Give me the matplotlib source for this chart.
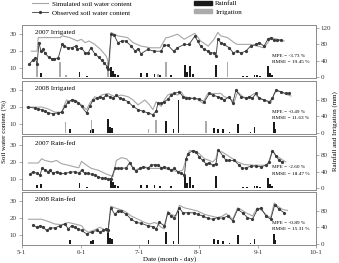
import matplotlib
matplotlib.use("Agg")
import matplotlib.pyplot as plt
from matplotlib.lines import Line2D
from matplotlib.patches import Patch

plt.rcParams['font.family'] = ['Liberation Serif', 'DejaVu Serif']
plt.rcParams['font.size'] = 5

# x values are days after May 1
month_ticks = [0, 31, 61, 92, 123, 153]
month_labels = ['5-1', '6-1', '7-1', '8-1', '9-1', '10-1']

# ---- 2007 irrigated ----
i07_sim_day = [5, 8, 8.6, 14, 20, 21, 25, 29, 31, 33, 35, 38, 41, 44, 45.5, 46.5, 50, 55, 58, 62, 67, 72, 75,
               76, 81, 84.5, 90, 93, 97, 100, 102, 103.5, 107, 110.5, 112, 119, 122.5, 126, 128, 129.5, 133, 136.5]
i07_sim_val = [20, 20, 28, 28, 28, 29, 28, 26, 27, 25, 26, 24, 21, 17, 12, 31, 29, 28, 25, 23, 22, 22, 28,
               28, 30, 27, 30.5, 26, 23, 27, 31, 29, 28, 25, 24, 24, 23, 22, 25, 28, 27, 26]
i07_obs_day = [4, 6, 7, 8, 9, 10, 11, 12, 14, 15.5, 17, 19, 21, 22, 24, 26, 28, 29, 31, 33, 34.5, 36, 38, 40,
               41.5, 43, 44.5, 45, 46.5, 48, 50, 52, 54, 57, 59, 60.5, 62, 65.5, 69, 72.5, 74, 76, 79, 81,
               84.5, 87, 90, 91.5, 93, 95, 97, 98, 100, 101, 102, 103.5, 105, 108, 110, 112, 114, 116.5,
               119, 122, 123.5, 126, 128, 129.5, 131, 133, 135]
i07_obs_val = [12.6, 15, 16, 12.6, 25, 20, 21, 19, 16.5, 15.6, 15.6, 16, 24, 23, 22, 22, 23, 21, 22, 19, 19, 22,
               18.5, 16.5, 14.8, 13, 11, 9.5, 30, 29.6, 25, 26, 26, 23, 20, 21.5, 18.5, 21, 20, 20, 23.5,
               23.5, 20, 22, 24, 24, 28.8, 26, 23, 21, 20, 19, 19, 17, 27, 25, 24, 22, 19, 20, 19, 20, 23,
               24, 25, 23, 27, 28, 26.5, 26.5, 26.5]
i07_irr_day = [8, 20, 23, 45, 71, 75, 107]
i07_irr_mm = [37, 37, 5, 37, 8, 37, 37]

# ---- 2008 irrigated ----
i08_sim_day = [2.6, 10.4, 13.8, 17.3, 20.7, 21.6, 23.3, 25.1, 26.8, 28.5, 31.1, 33.7, 35.4, 38, 39.7, 41.5,
               44.9, 48.4, 51.8, 55.3, 57.9, 60.5, 64, 66.5, 68.2, 69.9, 72.5, 74.2, 76, 77.7, 81.2, 82.9,
               84.6, 88.1, 91.5, 94.1, 96.7, 100.2, 103.6, 105.3, 108, 110.5, 112.3, 114.9, 117.4, 120.9,
               123.5, 126.1, 129.5, 131.3, 133, 136.5, 140]
i08_sim_val = [19.8, 19.8, 18.7, 16.8, 16.8, 19.2, 24, 23, 24.4, 23, 21.1, 18.3, 22.1, 25.9, 25, 26.9, 27.8,
               25.9, 26.9, 25.9, 24, 21.1, 24, 21.1, 18.3, 23, 20.2, 24, 26.9, 27.8, 26.9, 28.8, 25.9, 25,
               24.4, 22.1, 27.8, 27.8, 27.8, 25.9, 25, 23, 28.8, 25.9, 25, 27.8, 25, 24, 22.1, 27.8, 29.7,
               27.8, 26.3]
i08_obs_day = [3.5, 6.9, 8.6, 10.4, 12.1, 13.8, 16.4, 19, 20.7, 22.5, 24.2, 25.9, 27.6, 29.4, 31.1, 33.7,
               35.4, 37.1, 38.9, 40.6, 42.3, 44, 45.8, 47.5, 49.2, 51, 52.7, 55.3, 57.9, 60.5, 63.2, 65.6,
               68.2, 69.9, 70.8, 72.5, 74.2, 76, 77.7, 79.4, 82, 83.8, 85.5, 87.2, 89.8, 92.4, 95, 97.6,
               99.3, 101.9, 103.6, 105.3, 108, 109.7, 111.4, 114, 116.6, 118.3, 120, 121.8, 123.5, 126.1,
               128.7, 130.4, 132.1, 134.7, 137.3, 139.1]
i08_obs_val = [19.8, 19.2, 18.7, 18.3, 17.3, 16.4, 16, 16.4, 16.8, 20.2, 23, 24, 23.6, 22.5, 20.2, 16.4, 20.2,
               24, 25, 25.9, 25, 26.9, 25.9, 25, 26.9, 25, 24.4, 23, 20.2, 18.3, 17.3, 16.4, 15.4, 17.3,
               22.1, 22.1, 23, 24.4, 26.9, 27.8, 28.8, 25.9, 25, 25, 25, 24.4, 23, 27.8, 26.9, 25.9, 25, 24,
               25.9, 22.1, 29.7, 25.9, 25, 25.9, 25, 27.8, 25, 24, 23, 25, 29.7, 28.8, 27.8, 27.8]
i08_irr_day = [22.8, 36.3, 66, 70, 96]
i08_irr_mm = [27, 30, 10, 30, 28]

# ---- 2007 rain-fed ----
r07_sim_day = [3.5, 8.6, 10.4, 12.1, 15.5, 18.1, 20.7, 24.2, 27.6, 29.7, 31.1, 33.7, 36.3, 39.7, 41.5, 43.2,
               46.6, 47.5, 49.2, 51.8, 54.4, 56.1, 58.7, 61.3, 63.9, 67.4, 70.8, 74.2, 77.7, 81.2, 83.8,
               85.5, 87.2, 89.8, 92.4, 95, 97.6, 99.3, 101, 101.9, 104.5, 107.1, 109.7, 112.3, 115.7,
               120.9, 125.2, 127.8, 129.5, 130.4, 132.1, 134.7, 137.3]
r07_sim_val = [19.6, 19.6, 22.1, 21.1, 20.2, 21.1, 19.2, 18.3, 17.3, 16.8, 20.6, 18.3, 16.4, 15.4, 14.5, 13.5,
               12, 11.6, 21.1, 22.7, 22.1, 20.2, 15.4, 16.4, 17.3, 16.4, 16.4, 16.4, 15.4, 14.5, 15.4, 22.1,
               26.9, 26.9, 25, 22.1, 21.1, 20.2, 22.1, 26.9, 25.9, 24, 22.1, 20.2, 18.7, 18.3, 18.3, 18.3,
               24, 26.9, 24, 22.1, 20.2]
r07_obs_day = [4.4, 6, 7.8, 9.5, 10.7, 12.1, 13.8, 14.7, 16.4, 18.1, 19.9, 22.5, 25.1, 27.6, 29.7, 31.1, 32.8,
               34.5, 36.3, 38, 39.7, 41.5, 43.2, 44.9, 46.6, 48.4, 50.1, 51.8, 54.4, 56.1, 57.9, 59.6, 61.3,
               63, 65.6, 67.4, 69.1, 70.8, 72.5, 74.2, 76, 77.7, 79.4, 81.2, 82.9, 84.6, 85.5, 86.4, 89,
               90.7, 92.4, 94.1, 95.9, 97.6, 99.3, 101, 102.2, 104.5, 106.2, 107.9, 110.5, 113.1, 114.8,
               116.6, 119.2, 121.8, 124.4, 127, 128.7, 130.4, 132.1, 133.9, 135.6]
r07_obs_val = [13.1, 14.5, 13.5, 12.6, 16.8, 15.4, 14.5, 15.4, 13.5, 14.5, 13.5, 13.5, 14.1, 14.5, 13.5, 15.4,
               13.5, 13.5, 13, 12.6, 11.6, 10.7, 10.7, 10.1, 10.3, 16.4, 16.4, 16.4, 16.8, 19.8, 16.4, 14.9,
               16.4, 17.3, 16.4, 18.3, 18.7, 18.3, 16.8, 17.3, 16.4, 15.4, 16.4, 14.5, 13.5, 12.6, 22.1, 25,
               26.9, 25.9, 23, 21.1, 19.2, 19.8, 18.3, 19.2, 27.4, 24, 21.1, 21.1, 21.1, 18.3, 16.4, 16.8,
               17.7, 17.9, 17.3, 18.3, 20.2, 26.9, 24, 21.1, 20.2]

# ---- 2008 rain-fed ----
r08_sim_day = [3.5, 10.4, 13.8, 17.3, 20.7, 24.2, 27.6, 31.1, 32.8, 34.5, 38, 40.6, 43.2, 44.9, 46.3, 48.4,
               50.9, 53.5, 57, 60.5, 64, 66.5, 69.1, 70.8, 72.5, 74.2, 76, 77.7, 80.3, 82, 84.6, 88.1, 91.5,
               95, 98.4, 101.9, 104.5, 106.2, 107.9, 109.7, 112.3, 114, 116.6, 120, 122.6, 125.2, 127.8,
               129.5, 131.3, 133, 135.6, 138.2]
r08_sim_val = [19.2, 19.2, 17.9, 16.4, 16, 17.3, 16.4, 15.4, 13, 11.6, 13, 14.5, 13, 11.6, 26.9, 25.9, 25, 24,
               21.1, 19.2, 17.3, 16.4, 17.3, 16.4, 14.5, 13.5, 24, 22, 21.1, 27.4, 25.9, 25, 24, 22.1, 21.1,
               20.2, 21.1, 22.5, 21.1, 19.2, 25.9, 25, 23, 21.1, 25.9, 24, 21.1, 20.2, 28.8, 26.9, 25, 24.4]
r08_obs_day = [6, 7.8, 9.5, 11.2, 12.9, 14.7, 17.3, 19.9, 22.5, 24.2, 25.9, 27.6, 29.4, 31.1, 33.7, 36.3,
               38.9, 40.6, 42.3, 44, 44.9, 46.3, 48.4, 50.1, 51.8, 54.4, 57, 59.6, 62.2, 65.6, 68.2, 69.9,
               71.6, 74.2, 76, 77.7, 79.4, 82, 83.8, 86.4, 89.8, 91.5, 94.1, 96.7, 99.3, 101.9, 104.5,
               107.1, 109.7, 112.3, 114.9, 117.4, 120, 122.6, 124.4, 127, 129.5, 131.6, 133.9, 136.5]
r08_obs_val = [15.8, 14.5, 15.4, 14.5, 12.6, 14.1, 14.1, 15.4, 16.4, 13.5, 15.4, 14.5, 13.5, 12.6, 10.7, 11.6,
               12.6, 11.6, 12.6, 13.5, 12.6, 25.9, 22.1, 24, 24, 22.1, 19.2, 17.3, 16.8, 15.4, 14.9, 13.5,
               17.3, 15.4, 23, 21, 20.2, 25.9, 23, 23, 23, 22.1, 21.1, 19.8, 19.2, 20.2, 19.8, 21.1, 18.3,
               25, 23, 20.2, 19.2, 25, 25.9, 21.1, 19.2, 27.8, 25, 23]

# ---- rainfall (same for both treatments of a year) ----
rain07_day = [8, 10, 30, 34, 46.5, 47.5, 48.5, 50, 62, 65, 69, 72, 77.7, 85, 86, 87.5, 89, 101, 115, 117,
              121, 122.5, 124, 128, 129, 130]
rain07_mm = [9, 10, 13, 3, 24, 15, 8, 6, 9, 9, 7, 5, 5, 30, 12, 28, 8, 30, 3, 3, 5, 6, 4, 26, 10, 6]
rain08_day = [25, 36, 37, 45, 46, 47, 66, 75, 79, 81.5, 100, 102, 104.5, 108, 112.5, 119, 121, 131, 132]
rain08_mm = [9, 6, 10, 33, 15, 12, 9, 28, 8, 80, 12, 10, 8, 3, 22, 3, 13, 25, 10]

panel_names = ['2007 Irrigated', '2008 Irrigated', '2007 Rain-fed', '2008 Rain-fed']
mpe = ['-3.73', '-0.49', '-2.60', '-0.89']
rmse = ['19.45', '11.63', '18.47', '15.31']

sim_days = [i07_sim_day, i08_sim_day, r07_sim_day, r08_sim_day]
sim_vals = [i07_sim_val, i08_sim_val, r07_sim_val, r08_sim_val]
obs_days = [i07_obs_day, i08_obs_day, r07_obs_day, r08_obs_day]
obs_vals = [i07_obs_val, i08_obs_val, r07_obs_val, r08_obs_val]
rain_days = [rain07_day, rain08_day, rain07_day, rain08_day]
rain_vals = [rain07_mm, rain08_mm, rain07_mm, rain08_mm]
irr_days = [i07_irr_day, i08_irr_day, [], []]
irr_vals = [i07_irr_mm, i08_irr_mm, [], []]

frame_c = '#8a8a8a'
sim_c = '#a6a6a6'
obs_c = '#3a3a3a'
rain_c = '#1a1a1a'
irr_c = '#ababab'

fig, axes = plt.subplots(4, 1, sharex=True, figsize=(3.39, 2.63), dpi=100)
fig.subplots_adjust(left=0.064, right=0.932, top=0.905, bottom=0.068, hspace=0.04)

for i, ax in enumerate(axes):
    tw = ax.twinx()
    tw.bar(rain_days[i], rain_vals[i], width=0.9, color=rain_c, linewidth=0)
    if irr_days[i]:
        tw.bar(irr_days[i], irr_vals[i], width=0.9, color=irr_c, linewidth=0)
    tw.set_ylim(-3, 127)
    tw.set_yticks([0, 40, 80, 120] if i == 0 else [0, 40, 80])

    ax.plot(sim_days[i], sim_vals[i], color=sim_c, lw=0.8)
    ax.plot(obs_days[i], obs_vals[i], color=obs_c, lw=0.6, marker='o', ms=1.3, mec=obs_c, mfc=obs_c)
    ax.set_ylim(4, 35.4)
    ax.set_yticks([10, 20, 30])
    ax.set_xlim(0, 153)
    ax.set_xticks(month_ticks)
    ax.set_xticklabels(month_labels)
    ax.set_zorder(tw.get_zorder() + 1)
    ax.patch.set_visible(False)

    for a in (ax, tw):
        for s in a.spines.values():
            s.set_color(frame_c)
            s.set_linewidth(0.6)
        a.tick_params(length=2, width=0.5, color=frame_c, labelsize=5, pad=1.5, labelcolor='#333333')
    if i < 3:
        ax.tick_params(axis='x', length=0)

    ax.text(0.045, 0.86, panel_names[i], transform=ax.transAxes, fontsize=5, va='center')
    ax.text(0.85, 0.42, 'MPE = ' + mpe[i] + ' %', transform=ax.transAxes, fontsize=3.8, va='center')
    ax.text(0.85, 0.30, 'RMSE = ' + rmse[i] + ' %', transform=ax.transAxes, fontsize=3.8, va='center')

fig.text(0.012, 0.5, 'Soil water content (%)', rotation=90, va='center', ha='center', fontsize=5)
fig.text(0.988, 0.5, 'Rainfall and Irrigation (mm)', rotation=90, va='center', ha='center', fontsize=5)
fig.text(0.5, 0.005, 'Date (month - day)', ha='center', va='bottom', fontsize=5)

h_left = [Line2D([], [], color=sim_c, lw=0.8),
          Line2D([], [], color=obs_c, lw=0.6, marker='o', ms=1.3)]
fig.legend(h_left, ['Simulated soil water content', 'Observed soil water content'],
           loc='upper left', bbox_to_anchor=(0.075, 1.02), frameon=False, fontsize=5,
           handlelength=2.3, handletextpad=0.6, labelspacing=0.45)
h_right = [Patch(color=rain_c), Patch(color=irr_c)]
fig.legend(h_right, ['Rainfall', 'Irrigation'],
           loc='upper left', bbox_to_anchor=(0.555, 1.02), frameon=False, fontsize=5,
           handlelength=2.5, handleheight=0.45, handletextpad=0.5, labelspacing=0.45)

fig.savefig('out.png', dpi=100)
